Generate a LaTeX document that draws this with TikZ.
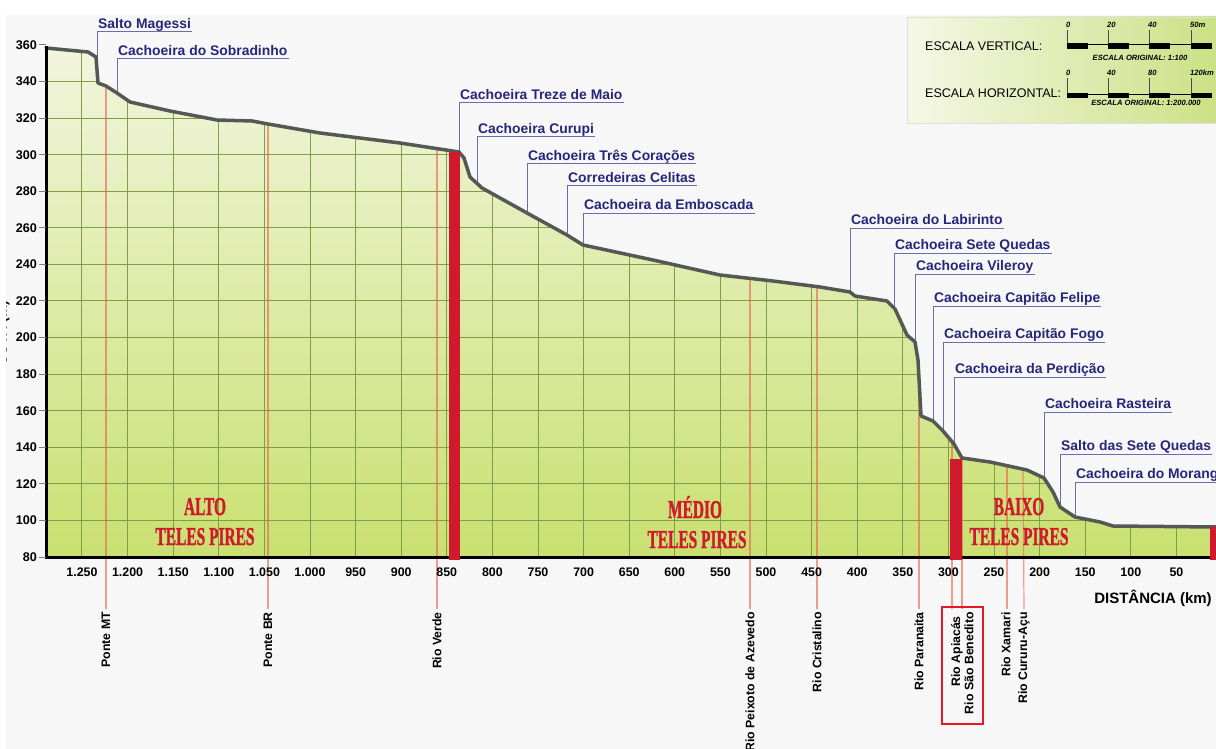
\documentclass[tikz,border=0pt]{standalone}
\usepackage{fontspec}
\setmainfont{Liberation Sans}
\newfontfamily\regiaofont[FakeBold=1.5]{Liberation Serif}
\usepackage{tikz}
\definecolor{perfilcor}{rgb}{0.33, 0.35, 0.33}
\definecolor{gradecor}{rgb}{0.50, 0.62, 0.28}
\definecolor{fundoalto}{rgb}{0.95, 0.96, 0.87}
\definecolor{fundobaixo}{rgb}{0.79, 0.88, 0.44}
\definecolor{barracor}{rgb}{0.82, 0.10, 0.18}
\definecolor{rotulocor}{rgb}{0.15, 0.15, 0.48}
\definecolor{guiacor}{rgb}{0.42, 0.42, 0.68}
\definecolor{riocor}{rgb}{0.90, 0.38, 0.30}
\definecolor{legendaclaro}{rgb}{0.96, 0.97, 0.90}
\definecolor{legendaescuro}{rgb}{0.80, 0.88, 0.52}
\definecolor{papelcor}{rgb}{0.97, 0.97, 0.97}
\definecolor{destaquecor}{rgb}{0.90, 0.10, 0.15}
\tikzstyle{perfil} = [perfilcor, line width = 3.5pt, line join = round, line cap = round]
\tikzstyle{grade} = [gradecor, line width = 1pt]
\tikzstyle{eixo} = [black, line width = 3pt]
\tikzstyle{barra} = [fill = barracor, draw = none]
\tikzstyle{cachoeira} = [anchor = south west, text = rotulocor, font = \bfseries\fontsize{13.9}{16}\selectfont, inner xsep = 1pt, inner ysep = 3pt, text depth = 0pt]
\tikzstyle{guia} = [guiacor, line width = 1pt]
\tikzstyle{rio} = [rotate = 90, anchor = east, font = \bfseries\fontsize{12.3}{14}\selectfont, inner sep = 3pt]
\tikzstyle{linharrio} = [riocor, line width = 1.2pt, opacity = 0.6]
\tikzstyle{marcax} = [font = \bfseries\fontsize{12.4}{14}\selectfont, inner sep = 0pt]
\tikzstyle{marcay} = [anchor = east, font = \bfseries\fontsize{12.6}{14}\selectfont, inner sep = 0pt]
\tikzstyle{regiao} = [anchor = base, text = barracor, font = \regiaofont\bfseries\fontsize{25.7}{30}\selectfont, inner sep = 0pt]
\tikzstyle{escala} = [anchor = base west, font = \bfseries\itshape\fontsize{7.6}{9}\selectfont, inner sep = 0pt]
\newcommand{\estreito}[1]{\scalebox{0.6}[1]{#1}}
\newcommand{\perfilrio}{(46,48) -- (88,52) -- (96,57) -- (98,83) -- (106,86) -- (117,93) -- (130,102) -- (170,111) -- (217,120) -- (252,121) -- (268,124) -- (320,133) -- (400,143) -- (459,152) -- (464,158) -- (470,177) -- (482,188) -- (527,213) -- (567,235) -- (583,245) -- (653,260) -- (720,275) -- (773,281) -- (820,287) -- (850,292) -- (855,296) -- (887,301) -- (895,309) -- (907,335) -- (915,342) -- (918,360) -- (921,416) -- (933,421) -- (943,431) -- (954,444) -- (962,458) -- (990,462) -- (1027,470) -- (1044,478) -- (1053,492) -- (1060,507) -- (1075,517) -- (1100,522) -- (1113,526) -- (1216,527)}

\begin{document}
\begin{tikzpicture}[x = 1pt, y = -1pt]
\useasboundingbox (0,0) rectangle (1216,749);
\fill[white] (0,0) rectangle (1216,749);
\fill[papelcor] (6,15) rectangle (1216,749);

% legenda das escalas
\shade[left color = legendaclaro, right color = legendaescuro, draw = gray!25] (907,17) rectangle (1220,123);
\node[anchor = west, font = \fontsize{12.5}{14}\selectfont, inner sep = 0pt] (escV) at (925,46) {ESCALA VERTICAL:};
\node[anchor = west, font = \fontsize{12.5}{14}\selectfont, inner sep = 0pt] (escH) at (925,93) {ESCALA HORIZONTAL:};
\draw[black, line width = 0.8pt] (1067,44) -- (1212,44);
\draw[black, line width = 0.8pt] (1067,94) -- (1212,94);
\foreach \a in {1067,1108,1149,1191} {
  \fill[black] (\a,43) rectangle ++(21,6);
  \fill[black] (\a,93) rectangle ++(21,5);
  \draw[black!70, line width = 0.6pt] (\a,30) -- (\a,43);
  \draw[black!70, line width = 0.6pt] (\a,78) -- (\a,93);
}
\node[escala] (v0) at (1066,28) {0};
\node[escala] (v20) at (1107,28) {20};
\node[escala] (v40) at (1148,28) {40};
\node[escala] (v50) at (1190,28) {50m};
\node[escala] (h0) at (1066,76) {0};
\node[escala] (h40) at (1107,76) {40};
\node[escala] (h80) at (1148,76) {80};
\node[escala] (h120) at (1190,76) {120km};
\node[escala, anchor = base] (origV) at (1140,61) {ESCALA ORIGINAL: 1:100};
\node[escala, anchor = base] (origH) at (1146,106) {ESCALA ORIGINAL: 1:200.000};

% area sob o perfil
\shade[top color = fundoalto, bottom color = fundobaixo] \perfilrio -- (1216,557) -- (46,557) -- cycle;
\begin{scope}
\clip \perfilrio -- (1216,557) -- (46,557) -- cycle;
\foreach \k in {0,50,...,1250}
  \draw[grade] ({1222-0.912*\k},30) -- ({1222-0.912*\k},560);
\foreach \v in {100,120,...,340}
  \draw[grade] (46,{557-(\v-80)*1.8286}) -- (1216,{557-(\v-80)*1.8286});
\end{scope}

% afluentes e pontes
\coordinate (pMT) at (106,86);
\coordinate (pBR) at (268,124);
\coordinate (pVerde) at (437,148);
\coordinate (pPeixoto) at (750,278);
\coordinate (pCristalino) at (817,287);
\coordinate (pParanaita) at (919,378);
\coordinate (pApiacas) at (952,441);
\coordinate (pBenedito) at (962,458);
\coordinate (pXamari) at (1007,466);
\coordinate (pCururu) at (1023,469);
\node[rio] (rMT) at (106,609) {Ponte MT};
\node[rio] (rBR) at (268,609) {Ponte BR};
\node[rio] (rVerde) at (437,609) {Rio Verde};
\node[rio] (rPeixoto) at (750,609) {Rio Peixoto de Azevedo};
\node[rio] (rCristalino) at (817,609) {Rio Cristalino};
\node[rio] (rParanaita) at (919,609) {Rio Paranaita};
\node[rio] (rApiacas) at (957,613) {Rio Apiacás};
\node[rio] (rBenedito) at (969,609) {Rio São Benedito};
\node[rio] (rXamari) at (1006,609) {Rio Xamari};
\node[rio] (rCururu) at (1024,609) {Rio Cururu-Açu};
\draw[linharrio] (pMT) -- (rMT.east);
\draw[linharrio] (pBR) -- (rBR.east);
\draw[linharrio] (pVerde) -- (rVerde.east);
\draw[linharrio] (pPeixoto) -- (rPeixoto.east);
\draw[linharrio] (pCristalino) -- (rCristalino.east);
\draw[linharrio] (pParanaita) -- (rParanaita.east);
\draw[linharrio] (pApiacas) -- (pApiacas |- rBenedito.east);
\draw[linharrio] (pBenedito) -- (pBenedito |- rBenedito.east);
\draw[linharrio] (pXamari) -- (pXamari |- rXamari.east);
\draw[linharrio] (pCururu) -- (rCururu.east);
\draw[destaquecor, line width = 2.2pt] (942,607) rectangle (983,724);

% cachoeiras e saltos
\coordinate (cMagessi) at (97,58);
\coordinate (cSobradinho) at (117,93);
\coordinate (cTreze) at (459,152);
\coordinate (cCurupi) at (477,183);
\coordinate (cTres) at (527,213);
\coordinate (cCelitas) at (567,235);
\coordinate (cEmboscada) at (583,245);
\coordinate (cLabirinto) at (850,292);
\coordinate (cSete) at (894,308);
\coordinate (cVileroy) at (915,342);
\coordinate (cFelipe) at (933,421);
\coordinate (cFogo) at (943,431);
\coordinate (cPerdicao) at (954,444);
\coordinate (cRasteira) at (1044,478);
\coordinate (cSalto) at (1060,507);
\coordinate (cMorango) at (1075,517);
\node[cachoeira] (lMagessi) at (97,32) {Salto Magessi};
\node[cachoeira] (lSobradinho) at (117,59) {Cachoeira do Sobradinho};
\node[cachoeira] (lTreze) at (459,103) {Cachoeira Treze de Maio};
\node[cachoeira] (lCurupi) at (477,137) {Cachoeira Curupi};
\node[cachoeira] (lTres) at (527,164) {Cachoeira Três Corações};
\node[cachoeira] (lCelitas) at (567,186) {Corredeiras Celitas};
\node[cachoeira] (lEmboscada) at (583,213) {Cachoeira da Emboscada};
\node[cachoeira] (lLabirinto) at (850,228) {Cachoeira do Labirinto};
\node[cachoeira] (lSete) at (894,253) {Cachoeira Sete Quedas};
\node[cachoeira] (lVileroy) at (915,274) {Cachoeira Vileroy};
\node[cachoeira] (lFelipe) at (933,306) {Cachoeira Capitão Felipe};
\node[cachoeira] (lFogo) at (943,342) {Cachoeira Capitão Fogo};
\node[cachoeira] (lPerdicao) at (954,377) {Cachoeira da Perdição};
\node[cachoeira] (lRasteira) at (1044,412) {Cachoeira Rasteira};
\node[cachoeira] (lSalto) at (1060,454) {Salto das Sete Quedas};
\node[cachoeira] (lMorango) at (1075,482) {Cachoeira do Morango};
\foreach \c in {Magessi,Sobradinho,Treze,Curupi,Tres,Celitas,Emboscada,Labirinto,Sete,Vileroy,Felipe,Fogo,Perdicao,Rasteira,Salto,Morango}
  \draw[guia] (l\c.south east) -- (l\c.south west) -- (c\c);

% perfil do rio
\draw[perfil] \perfilrio;

% eixos
\draw[eixo] (46,46) -- (46,557) -- (1216,557);
\foreach \v in {80,100,...,360} {
  \draw[gray, line width = 1pt] (39,{557-(\v-80)*1.8286}) -- (46,{557-(\v-80)*1.8286});
  \node[marcay] (y\v) at (37,{557-(\v-80)*1.8286}) {\v};
}
\foreach \k/\t in {1250/1.250,1200/1.200,1150/1.150,1100/1.100,1050/1.050,1000/1.000,950/950,900/900,850/850,800/800,750/750,700/700,650/650,600/600,550/550,500/500,450/450,400/400,350/350,300/300,250/250,200/200,150/150,100/100,50/50,0/0}
  \node[marcax] (x\k) at ({1222-0.912*\k},572) {\t};
\node[font = \bfseries\fontsize{15}{17}\selectfont, inner sep = 0pt] (distancia) at (1153,598) {DISTÂNCIA (km)};
\node[rotate = 90, font = \bfseries\fontsize{14}{16}\selectfont, inner sep = 0pt] (cota) at (3,333) {COTA (m)};
\fill[white] (0,0) rectangle (6,749);

% barragens
\fill[barra] (449,152) rectangle (460,560);
\fill[barra] (950,459) rectangle (962,560);
\fill[barra] (1210,527) rectangle (1222,560);

% trechos do rio
\node[regiao] (altoA) at (205,515) {\estreito{ALTO}};
\node[regiao] (altoB) at (205,545) {\estreito{TELES PIRES}};
\node[regiao] (medioA) at (695,518) {\estreito{MÉDIO}};
\node[regiao] (medioB) at (697,548) {\estreito{TELES PIRES}};
\node[regiao] (baixoA) at (1019,515) {\estreito{BAIXO}};
\node[regiao] (baixoB) at (1019,545) {\estreito{TELES PIRES}};

\end{tikzpicture}
\end{document}
